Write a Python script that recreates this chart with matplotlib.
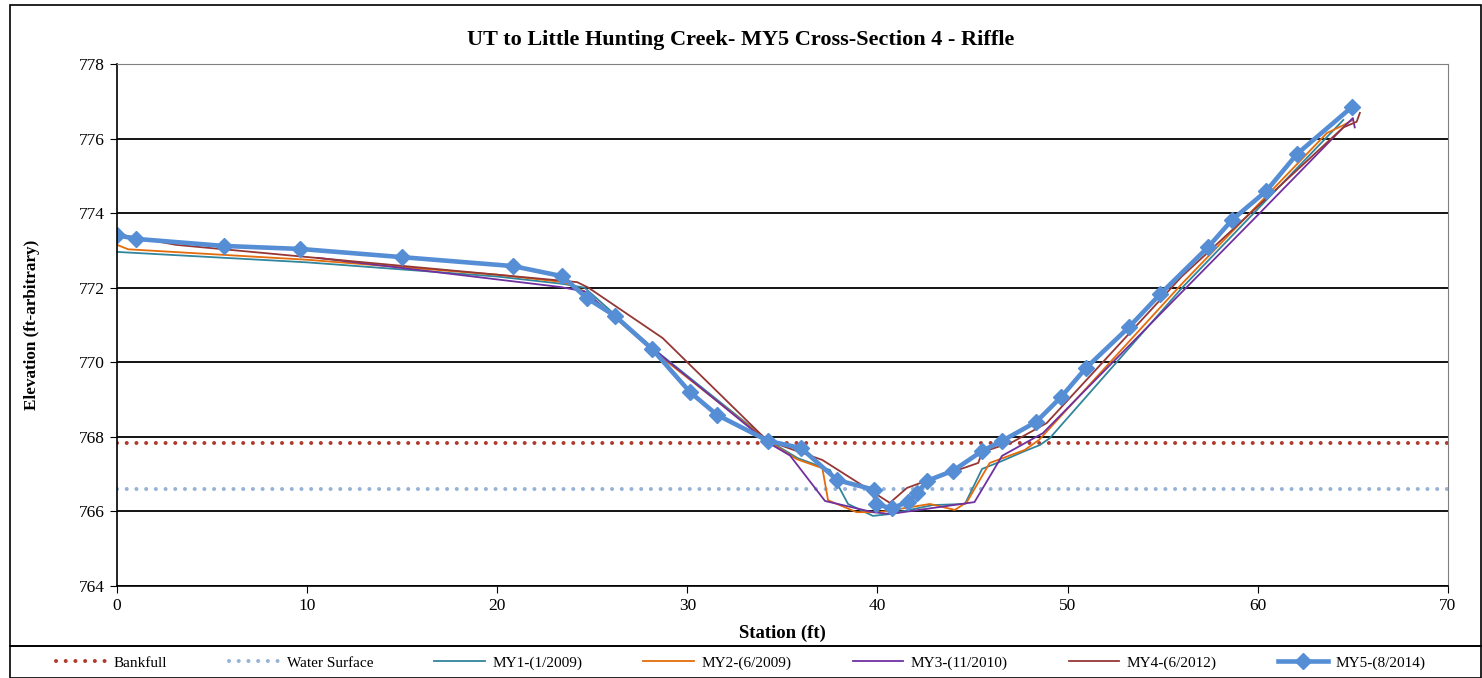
import numpy as np
import matplotlib.pyplot as plt
from matplotlib.patches import Rectangle

plt.rcParams['font.family'] = ['Liberation Serif', 'DejaVu Serif']

bankfull = 767.84
water_surface = 766.6

my1_x = [0, 10, 20, 23.5, 24.6, 28.1, 34.2, 35.8, 37.5, 38.45, 39.76, 40.65, 42.9, 44.6, 45.5, 46.44, 47.75, 48.54, 49.07, 56.06, 64.5]
my1_y = [772.96, 772.68, 772.3, 772.1, 772.0, 770.41, 767.92, 767.43, 767.11, 766.2, 765.88, 765.93, 766.17, 766.2, 767.14, 767.33, 767.62, 767.78, 767.97, 772.02, 776.5]

my2_x = [0, 0.6, 10, 20, 23.5, 24.6, 28.1, 34.2, 35.76, 37.1, 37.4, 38.9, 40.1, 42.76, 44.07, 44.7, 45.9, 47.75, 48.5, 56.0, 63.64, 64.5, 65.0]
my2_y = [773.15, 773.03, 772.75, 772.35, 772.15, 771.9, 770.35, 767.9, 767.4, 767.16, 766.3, 765.98, 765.98, 766.2, 766.04, 766.25, 767.3, 767.65, 767.92, 772.1, 776.15, 776.36, 776.5]

my3_x = [10.57, 23.3, 24.6, 28.1, 34.2, 35.4, 37.24, 39.76, 40.65, 45.1, 46.55, 48.7, 60.1, 64.5, 65.0, 65.1]
my3_y = [772.8, 772.02, 771.9, 770.4, 767.86, 767.5, 766.28, 765.98, 765.93, 766.25, 767.49, 768.1, 774.0, 776.3, 776.55, 776.3]

my4_x = [0, 3.1, 24.2, 24.8, 28.7, 34.2, 37.1, 40.65, 41.55, 42.4, 45.3, 45.5, 47.1, 48.9, 56.0, 64.5, 65.2, 65.37]
my4_y = [773.44, 773.15, 772.15, 772.0, 770.65, 767.9, 767.38, 766.23, 766.63, 766.79, 767.3, 767.59, 767.86, 768.37, 772.3, 776.3, 776.45, 776.69]

my5_x = [0, 1.0, 5.63, 9.63, 14.99, 20.83, 23.41, 24.72, 26.2, 28.14, 30.14, 31.56, 34.25, 35.98, 37.88,
         39.83, 39.9, 40.75, 41.6, 42.1, 42.6, 43.97, 45.5, 46.55, 48.34, 49.66, 50.97, 53.24, 54.87,
         57.39, 58.65, 60.44, 62.07, 64.96]
my5_y = [773.41, 773.31, 773.12, 773.04, 772.82, 772.58, 772.31, 771.72, 771.24, 770.36, 769.2, 768.59, 767.89, 767.7, 766.84,
         766.58, 766.2, 766.08, 766.26, 766.5, 766.82, 767.09, 767.62, 767.89, 768.4, 769.07, 769.85, 770.95, 771.83,
         773.09, 773.82, 774.59, 775.59, 776.85]

fig = plt.figure(figsize=(14.82, 6.78), dpi=100)
ax = fig.add_axes([0.0789, 0.1357, 0.8981, 0.7699])

dots = (0, (0.01, 2.4))
ax.axhline(bankfull, color='#B03A2E', lw=2.9, ls=dots, dash_capstyle='round', label='Bankfull')
ax.axhline(water_surface, color='#95B3D7', lw=2.9, ls=dots, dash_capstyle='round', label='Water Surface')
ax.plot(my1_x, my1_y, color='#31859C', lw=1.3, label='MY1-(1/2009)')
ax.plot(my2_x, my2_y, color='#E46C0A', lw=1.3, label='MY2-(6/2009)')
ax.plot(my3_x, my3_y, color='#7030A0', lw=1.3, label='MY3-(11/2010)')
ax.plot(my4_x, my4_y, color='#953735', lw=1.3, label='MY4-(6/2012)')
ax.plot(my5_x, my5_y, color='#558ED5', lw=3.3, marker='D', ms=8, label='MY5-(8/2014)')

ax.set_xlim(0, 70)
ax.set_ylim(764, 778)
ax.set_xticks(np.arange(0, 71, 10))
ax.set_yticks(np.arange(764, 779, 2))
ax.yaxis.grid(True, color='black', lw=1.3)
ax.set_axisbelow(True)
ax.tick_params(labelsize=12.5, direction='out', length=5)
for s in ['top', 'right']:
    ax.spines[s].set_color('#808080')
ax.spines['left'].set_linewidth(1.2)
ax.spines['bottom'].set_linewidth(1.2)

fig.text(0.5, 0.941, 'UT to Little Hunting Creek- MY5 Cross-Section 4 - Riffle', fontsize=16,
         fontweight='bold', ha='center', va='center')
ax.set_xlabel('Station (ft)', fontsize=13.5, fontweight='bold', labelpad=8)
ax.set_ylabel('Elevation (ft-arbitrary)', fontsize=12.3, fontweight='bold', labelpad=28)

fig.patches.append(Rectangle((0.0067, 0.047), 0.9926, 0.945, transform=fig.transFigure,
                             fill=False, edgecolor='black', lw=1.2))
fig.patches.append(Rectangle((0.0067, 0.0), 0.9926, 0.047, transform=fig.transFigure,
                             fill=False, edgecolor='black', lw=1.2))

fig.legend(loc='center', bbox_to_anchor=(0.5, 0.022), ncol=7, frameon=False, fontsize=11,
           handlelength=3.3, columnspacing=4.0, handletextpad=0.5)

fig.savefig('out.png', dpi=100)
